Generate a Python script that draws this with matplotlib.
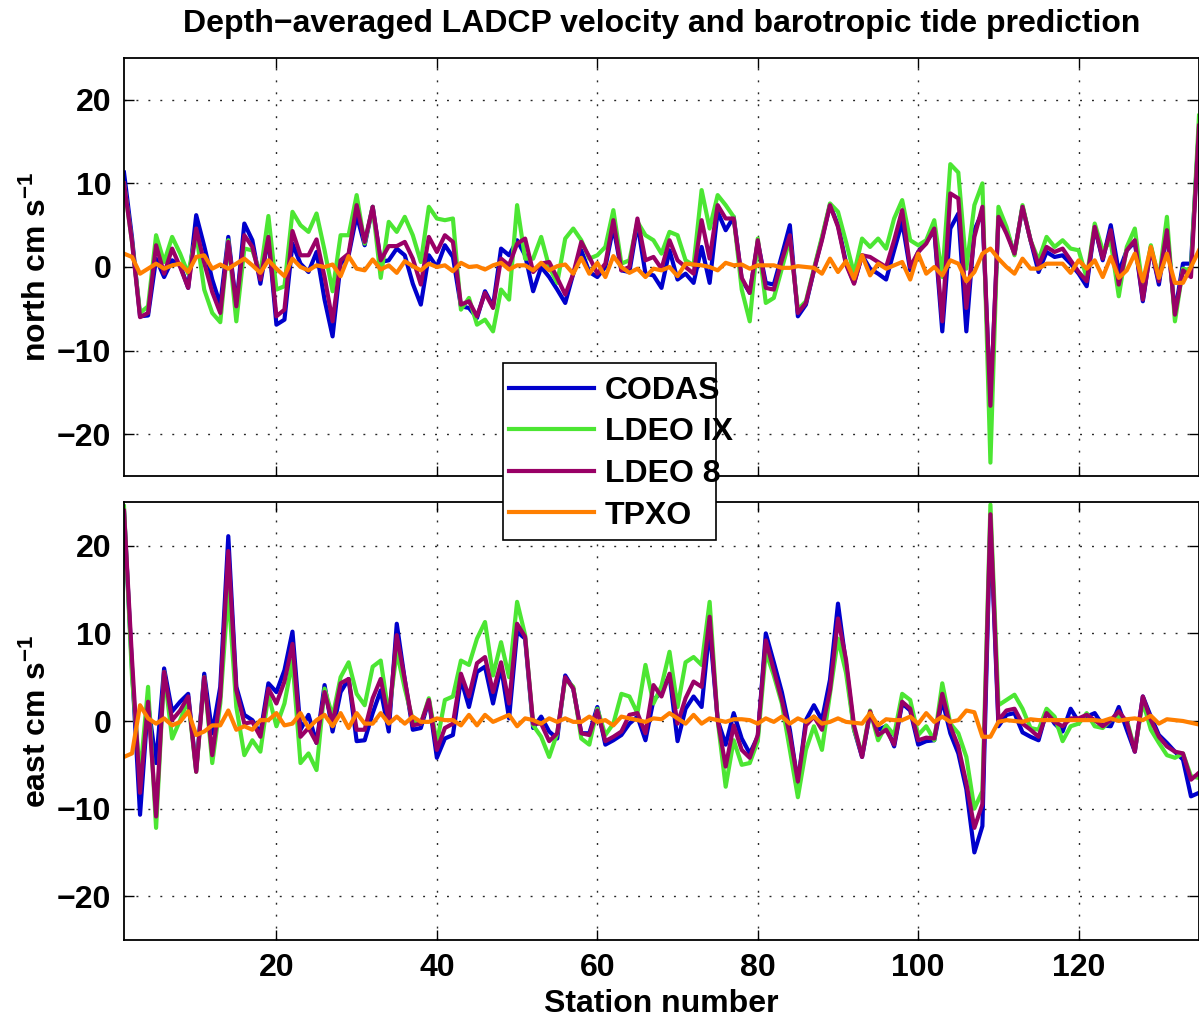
import matplotlib
matplotlib.use('Agg')
import matplotlib.pyplot as plt
from matplotlib.patches import Rectangle

plt.rcParams['font.family'] = ['Liberation Sans', 'DejaVu Sans']
plt.rcParams['font.weight'] = 'bold'
plt.rcParams['mathtext.fontset'] = 'custom'
plt.rcParams['mathtext.rm'] = 'Liberation Sans:bold'
plt.rcParams['mathtext.bf'] = 'Liberation Sans:bold'
plt.rcParams['mathtext.default'] = 'bf'

stations = list(range(1, 136))

north_codas = [
    11.3, 3.5, -5.9, -5.8, 1.0, -1.2, 0.8, 0.2, -2.5, 6.2, 2.5, -1.5, -4.5, 3.6, -4.7, 5.2, 3.2, -2.0, 3.6, -6.9, -6.3, 2.8, 0.4,
    -0.6, 1.8, -3.9, -8.3, 0.4, 1.4, 6.2, 2.6, 7.2, 0.6, 0.8, 2.2, 1.4, -2.0, -4.5, 1.4, 0.0, 2.6, 1.2, -4.7, -4.9, -6.1, -2.9,
    -4.7, 2.2, 1.4, 3.2, 1.4, -2.9, 0.0, -1.2, -2.7, -4.3, -0.8, 2.0, -0.6, -1.2, 0.0, 4.8, -0.4, -0.6, 5.2, -0.8, -1.0, -2.5,
    2.0, -1.5, -0.8, -1.9, 2.4, -1.9, 6.6, 4.4, 6.0, -1.5, -3.1, 3.0, -1.9, -2.1, 1.4, 5.0, -5.9, -4.5, -0.4, 3.4, 7.4, 5.0, 0.5,
    -1.9, 1.4, -0.2, -0.8, -1.5, 2.0, 5.4, -0.4, 1.8, 3.0, 4.4, -7.7, 4.6, 6.4, -7.7, 4.4, 6.6, -16.6, 5.6, 4.4, 1.6, 7.2,
    3.2, -0.6, 1.8, 1.2, 1.4, 0.4, -0.8, -2.3, 4.8, 0.8, 5.0, -0.6, 2.0, 3.0, -4.1, 2.4, -2.1, 4.4, -5.5, 0.4, 0.4, 16.7,
]
north_ldeoix = [
    10.0, 3.0, -5.5, -4.7, 3.8, 0.6, 3.6, 1.6, -0.8, 4.0, -2.7, -5.5, -6.6, 3.2, -6.5, 2.2, 2.0, -0.8, 6.1, -2.7, -2.3, 6.6, 5.0,
    4.2, 6.4, 2.0, -2.9, 3.8, 3.8, 8.6, 2.8, 7.2, -1.3, 5.4, 4.2, 6.0, 3.8, 0.6, 7.2, 5.8, 5.6, 5.8, -5.1, -3.7, -6.9, -6.3,
    -7.7, -2.7, -3.9, 7.4, 1.0, 1.0, 3.6, 0.0, -1.9, 3.4, 4.6, 3.2, 1.0, 1.4, 2.4, 6.8, 0.4, 0.8, 5.4, 3.8, 3.2, 1.6,
    4.2, 3.8, 0.8, 0.2, 9.2, 4.6, 8.6, 7.4, 6.0, -2.7, -6.5, 3.4, -4.3, -3.7, -0.2, 3.4, -5.1, -4.1, -0.2, 3.6, 7.6, 6.6, 3.0,
    -0.8, 3.4, 2.4, 3.4, 2.2, 5.8, 8.0, 3.2, 2.6, 3.2, 5.6, -1.2, 12.3, 11.3, -0.2, 7.4, 10.0, -23.4, 7.2, 4.8, 1.4, 7.4,
    3.2, 0.8, 3.6, 2.4, 3.2, 2.2, 2.0, -1.3, 5.2, 2.0, 3.0, -3.5, 2.4, 4.6, -2.7, 2.6, -1.5, 6.0, -6.5, -0.2, -0.4, 18.1,
]
north_ldeo8 = [
    10.0, 3.0, -6.0, -5.5, 2.6, -0.8, 2.2, 0.0, -2.5, 4.6, 0.5, -3.0, -5.5, 3.0, -4.7, 3.8, 2.4, -1.5, 3.6, -5.9, -5.1, 4.3, 1.4,
    1.4, 3.3, -1.2, -6.5, 0.8, 1.6, 7.4, 3.0, 7.2, 0.8, 2.5, 2.5, 3.0, 1.0, -2.1, 3.6, 1.8, 3.8, 3.0, -4.5, -4.1, -5.9, -3.1,
    -4.9, 1.0, 0.2, 2.8, 3.4, -0.6, 0.4, 0.6, -1.3, -3.3, -0.8, 3.0, 1.2, -0.8, 0.4, 5.6, -0.4, 0.0, 5.8, 0.8, 1.2, -0.2,
    3.2, 0.8, 0.0, -0.8, 5.6, 1.0, 7.4, 5.8, 5.8, -1.3, -3.1, 3.2, -2.5, -2.7, 0.8, 3.8, -5.5, -4.3, -0.4, 3.2, 7.4, 4.8, 0.3,
    -2.0, 1.4, 1.2, 0.6, 0.0, 3.2, 6.8, 0.0, 1.8, 2.8, 4.6, -6.5, 8.8, 8.2, -4.9, 3.6, 7.2, -16.6, 6.0, 4.0, 1.6, 7.2,
    3.2, 0.2, 2.4, 1.8, 2.2, 0.8, -0.6, -1.7, 4.8, 1.0, 4.4, -2.1, 2.0, 3.2, -3.9, 2.2, -1.7, 4.4, -5.7, -0.4, -1.2, 16.9,
]
north_tpxo = [
    1.6, 1.2, -0.8, -0.2, 0.4, -0.2, 0.2, 0.4, -0.6, 1.2, 1.4, -0.2, 0.3, -0.2, 0.4, 1.0, 0.2, -0.7, 0.8, -0.2, -1.1, 1.0, 0.0,
    -0.4, 0.2, 0.0, 0.3, -1.1, 1.3, -0.2, -0.4, 0.9, -0.3, 0.2, -0.7, 0.7, 0.1, -0.4, 0.4, 0.0, 0.2, -0.5, 0.5, 0.0, 0.1, -0.3,
    0.2, 0.5, -0.3, 0.2, 0.2, -0.4, 0.5, -0.4, 0.1, 0.3, -0.8, 1.1, -0.8, 0.5, -1.2, 1.3, 0.0, -0.7, -0.2, -1.2, -0.2, -0.4,
    0.0, -1.1, 0.4, 0.3, 0.2, 0.0, -0.4, 0.5, 0.2, 0.3, -0.2, 0.2, 0.2, 0.2, -0.1, -0.1, 0.1, 0.0, -0.1, -0.8, 1.0, -0.6, 0.7,
    -1.4, 1.4, -1.0, 0.4, -0.2, 0.2, 0.6, -1.5, 1.6, -0.8, 0.0, -1.0, 0.8, 0.4, -1.7, -0.6, 1.6, 2.2, 1.0, 0.0, -0.8, 1.0,
    -0.2, -0.2, 0.4, 0.4, 0.4, -0.7, 0.8, -0.2, 0.8, -1.2, 1.2, -1.3, -0.4, 1.6, -1.7, 2.4, -1.3, 1.6, -1.9, -1.9, 0.0, 2.0,
]

east_codas = [
    24.0, 6.0, -10.7, 2.0, -4.8, 6.0, 1.1, 2.2, 3.1, -5.6, 5.4, -1.4, 3.9, 21.1, 3.9, 0.7, 0.1, -1.4, 4.3, 3.3, 5.8, 10.2, -1.0,
    0.7, -2.5, 4.1, -1.2, 3.3, 4.8, -2.3, -2.2, 0.9, 3.5, -1.2, 11.1, 4.7, -1.0, -0.8, 2.4, -4.2, -2.0, -1.6, 4.8, 1.6, 5.6, 6.2,
    2.0, 6.2, 0.3, 10.2, 9.4, -0.8, 0.5, -1.2, -2.0, 5.2, 3.7, -1.4, -1.4, 1.6, -2.7, -2.2, -1.6, -0.3, 0.5, -2.2, 2.4, 3.3,
    5.2, -2.3, 1.4, 2.8, 1.6, 10.7, 0.1, -2.7, 0.9, -2.0, -3.7, -1.8, 10.0, 6.7, 3.3, -1.0, -7.1, 0.1, 1.8, 0.1, 4.7, 13.4, 6.5,
    -1.0, -4.1, 0.9, -1.0, -0.6, -2.9, 2.0, 1.2, -2.7, -2.3, -2.2, 2.4, -1.4, -3.7, -7.8, -15.0, -12.0, 22.8, -0.6, 0.7, 0.9, -1.3,
    -1.8, -2.2, 1.1, -0.3, -1.2, 1.4, -0.1, 0.5, 0.9, -0.5, -0.6, 1.6, -1.0, -3.5, 2.8, 0.5, -1.6, -2.5, -3.5, -4.4, -8.6, -8.2,
]
east_ldeoix = [
    24.5, 5.0, -6.3, 3.9, -12.2, 5.6, -2.0, 0.1, 2.4, -5.8, 5.0, -4.8, 2.0, 14.9, 1.6, -3.9, -2.2, -3.5, 3.0, -0.6, 2.0, 6.9, -4.8,
    -3.7, -5.6, 3.7, 0.5, 5.0, 6.7, 3.1, 1.8, 6.2, 6.9, 0.7, 7.9, 3.7, 0.1, -0.3, 2.6, -2.5, 2.4, 2.8, 6.9, 6.4, 9.4, 11.3,
    5.2, 9.0, 5.0, 13.6, 9.8, -0.5, -1.8, -4.1, -1.4, 4.8, 3.9, -2.0, -2.7, 1.4, -1.6, -0.3, 3.1, 2.8, 0.9, 6.4, 2.0, 4.0,
    7.9, 1.6, 6.7, 7.3, 6.4, 13.6, 0.1, -7.5, -2.2, -5.0, -4.8, -2.3, 7.9, 5.2, 2.0, -3.3, -8.7, -3.3, -0.6, -3.3, 3.1, 9.4, 5.5,
    -1.0, -3.8, 1.2, -2.2, -0.5, -1.6, 3.1, 2.4, -1.6, -0.6, -2.2, 4.3, -0.3, -1.4, -4.1, -10.0, -8.0, 24.7, 1.8, 2.4, 3.0, 1.4,
    -0.8, -1.0, 1.4, 0.5, -2.3, -0.6, -0.3, 0.9, -0.6, -0.8, 0.1, 0.5, 0.1, -3.3, 2.2, -1.0, -2.5, -3.9, -4.2, -3.7, -6.3, -6.5,
]
east_ldeo8 = [
    24.0, 7.0, -8.2, 2.2, -10.9, 5.6, 0.1, 1.2, 2.8, -5.8, 5.0, -3.9, 2.8, 19.4, 3.5, -0.3, -0.1, -1.8, 3.7, 2.0, 4.5, 8.8, -1.8,
    -0.8, -2.5, 3.3, -0.3, 4.3, 4.8, -1.0, -1.0, 2.6, 4.8, 0.1, 9.8, 4.7, -0.5, -0.3, 2.4, -3.3, -0.8, -0.3, 5.4, 2.8, 6.6, 7.3,
    3.3, 6.7, 2.0, 11.1, 9.6, -0.3, -0.3, -2.3, -1.4, 5.0, 3.7, -1.4, -1.6, 1.2, -2.3, -1.8, -1.2, 0.7, 0.9, -1.4, 4.1, 2.8,
    5.4, -0.3, 2.6, 4.5, 3.9, 11.9, 0.1, -5.2, -0.5, -3.3, -4.2, -1.6, 9.2, 5.8, 2.4, -1.6, -6.9, -0.5, 0.5, -1.0, 3.5, 11.7, 7.0,
    -0.5, -4.1, 1.1, -1.6, -1.0, -2.7, 2.2, 1.4, -2.2, -1.9, -2.0, 3.1, -0.6, -2.9, -7.1, -12.2, -9.5, 23.6, 0.1, 1.2, 1.4, -0.3,
    -1.0, -1.8, 0.9, -0.1, -0.6, 0.3, 0.3, 0.7, 0.1, -0.6, 0.1, 1.1, -0.1, -3.5, 2.8, 0.1, -1.8, -2.9, -3.5, -3.7, -6.7, -5.9,
]
east_tpxo = [
    -4.1, -3.7, 1.8, 0.3, -0.3, 0.3, -0.5, -0.1, 1.1, -1.6, -1.2, -0.5, -0.5, 1.2, -1.0, -0.6, -1.0, 0.1, 0.1, 0.9, -0.5, -0.3, 0.9,
    -0.8, 0.1, 0.7, -0.6, 0.9, -0.8, 0.9, -0.3, -0.3, 0.9, -0.3, 0.5, -0.3, 0.5, -0.1, -0.1, 0.3, 0.1, 0.1, -0.5, 0.7, -0.5, 0.7,
    -0.1, 0.3, 0.7, -0.6, 0.3, 0.1, -0.3, 0.3, -0.1, 0.3, -0.1, -0.1, 0.5, -0.1, 0.1, -0.5, 0.5, 0.3, 0.1, -0.1, 0.3, 0.2,
    0.9, 0.3, -0.3, 0.7, -0.3, 0.3, 0.1, -0.1, 0.2, 0.2, 0.1, -0.3, 0.3, -0.1, 0.5, -0.3, 0.3, -0.1, 0.5, -0.3, -0.1, 0.3, -0.1,
    -0.2, -0.3, 0.9, -0.5, 0.2, 0.1, 0.1, 0.5, -0.3, 0.9, -0.1, 0.5, -0.1, 0.1, 1.2, 1.0, -1.8, -1.8, -0.1, 0.1, 0.0, -0.1,
    0.2, 0.1, 0.1, 0.1, 0.1, 0.1, 0.1, 0.1, 0.1, 0.0, 0.3, 0.0, 0.2, 0.3, 0.1, 0.6, -0.3, 0.2, 0.1, 0.0, -0.2, -0.4,
]

series_names = ['CODAS', 'LDEO IX', 'LDEO 8', 'TPXO']
series_colors = ['#0000CC', '#4CE633', '#990066', '#FF7F00']
yticks = [-20, -10, 0, 10, 20]
xticks = [20, 40, 60, 80, 100, 120]

W, H = 1199, 1021
fig = plt.figure(figsize=(W / 100, H / 100), dpi=100)
ax1 = fig.add_axes([124 / W, 1 - 476 / H, (1199 - 124) / W, 418 / H])
ax2 = fig.add_axes([124 / W, 1 - 940 / H, (1199 - 124) / W, 438 / H])

FS = 23
handles = []
for ax, data, ylab in [
    (ax1, [north_codas, north_ldeoix, north_ldeo8, north_tpxo], r'north cm s$^{-1}$'),
    (ax2, [east_codas, east_ldeoix, east_ldeo8, east_tpxo], r'east cm s$^{-1}$'),
]:
    hs = []
    for vals, name, col in zip(data, series_names, series_colors):
        h, = ax.plot(stations, vals, color=col, lw=3.0, label=name)
        hs.append(h)
    handles = hs
    ax.set_xlim(1, 135)
    ax.set_ylim(-25, 25)
    ax.set_yticks(yticks)
    ax.set_xticks(xticks)
    ax.grid(True, linestyle=(0, (1.4, 7.2)), color='k', linewidth=1.0, alpha=0.85)
    ax.tick_params(direction='in', length=7, width=1.0, top=True, right=True,
                   labelsize=FS, pad=9)
    for lab in ax.get_xticklabels() + ax.get_yticklabels():
        lab.set_fontweight('bold')
    for sp in ax.spines.values():
        sp.set_linewidth(1.3)
    ax.set_ylabel(ylab, fontsize=FS, fontweight='bold', labelpad=3)

ax1.tick_params(labelbottom=False)
ax2.set_xlabel('Station number', fontsize=FS, fontweight='bold', labelpad=5)
ax1.set_title('Depth\u2212averaged LADCP velocity and barotropic tide prediction',
              fontsize=FS, fontweight='bold', pad=19)

# legend box (MATLAB-style: box narrower than text)
box = Rectangle((503 / W, 1 - 540 / H), 213 / W, 177 / H, transform=fig.transFigure,
                facecolor='white', edgecolor='k', linewidth=1.2, zorder=4)
fig.add_artist(box)

leg = fig.legend(handles, series_names, loc='upper left',
                 bbox_to_anchor=(509 / W, 1 - 376 / H),
                 fontsize=FS, frameon=False, handlelength=2.65, borderpad=0.0,
                 labelspacing=0.36, handletextpad=0.35, borderaxespad=0)
leg.set_zorder(5)
for t in leg.get_texts():
    t.set_fontweight('bold')

fig.savefig('out.png', dpi=100)
